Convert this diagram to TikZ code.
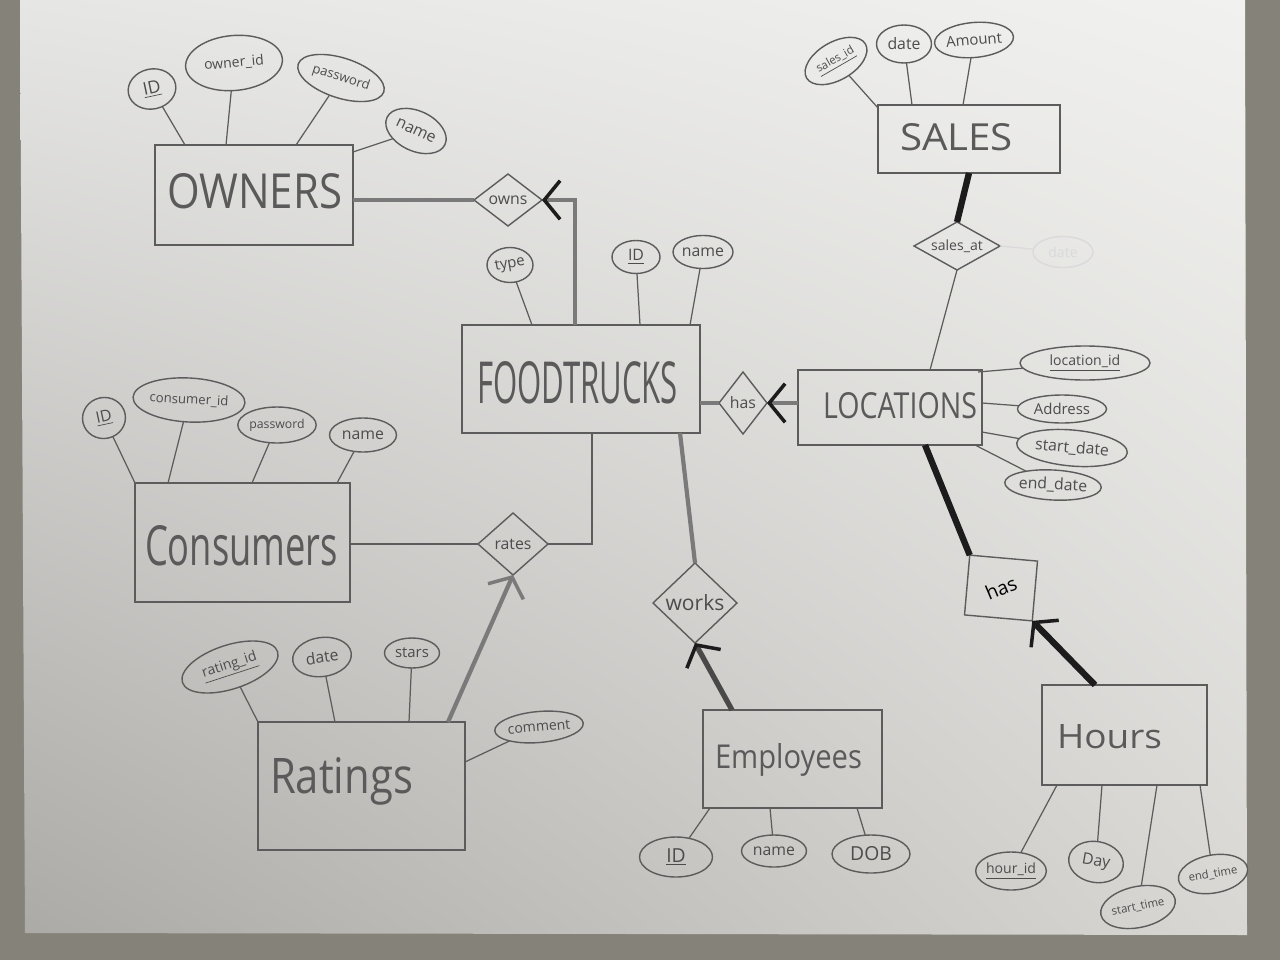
\documentclass[tikz,border=0pt]{standalone}
\usepackage{fontspec}
\setmainfont{Open Sans}
\usetikzlibrary{shapes.geometric,arrows.meta,calc,shadings}

\definecolor{pencil}{HTML}{5C5C5C}
\definecolor{ink}{HTML}{4C4C4C}
\definecolor{softink}{HTML}{5A5A5A}
\definecolor{heavy}{HTML}{7A7A7A}
\definecolor{graphite}{HTML}{1C1C1C}
\definecolor{backdrop}{HTML}{858279}
\definecolor{erased}{HTML}{DADADA}
\definecolor{paperUL}{RGB}{230,230,228}
\definecolor{paperUR}{RGB}{241,241,239}
\definecolor{paperLL}{RGB}{172,170,167}
\definecolor{paperLR}{RGB}{216,215,212}

\newcommand\attrsize[1]{\fontsize{#1}{#1}\selectfont}

\tikzset{
  entity/.style={draw=pencil, line width=0.9pt, rectangle, inner sep=0pt, outer sep=0pt},
  bigword/.style={anchor=base, inner sep=0pt, outer sep=0pt, text=softink},
  attr/.style={draw=pencil, line width=0.8pt, ellipse, inner sep=0pt, outer sep=0pt, text=ink},
  relation/.style={draw=pencil, line width=0.8pt, diamond, inner sep=0pt, outer sep=0pt, text=ink},
  link/.style={draw=pencil, line width=0.7pt},
  heavylink/.style={draw=heavy, line width=2.4pt},
  darklink/.style={draw=graphite, line width=3.6pt},
  barb/.style={-{Straight Barb[length=9pt,width=22pt,line width=2pt,color=#1]}},
  sz/.style 2 args={minimum width=#1*0.02cm, minimum height=#2*0.02cm},
}

\begin{document}
\begin{tikzpicture}[x=0.02cm, y=-0.02cm]
\useasboundingbox (0,0) rectangle (1280,960);

% table top and sheet of paper
\fill[backdrop] (0,0) rectangle (1280,960);
\shade[upper left=paperUL, upper right=paperUR,
       lower left=paperLL, lower right=paperLR]
  (20,0) -- (1245,0) -- (1247,935) -- (25,933) -- cycle;

% ---------------- entities ----------------
\node[entity, sz={198}{100}] (OWN) at (254,195) {};
\node[bigword] (OWNtxt) at (254.5,208) {\resizebox{3.5cm}{0.7cm}{OWNERS}};

\node[entity, sz={238}{108}] (FT) at (581,379) {};
\node[bigword] (FTtxt) at (577.5,403) {\resizebox{4.02cm}{0.84cm}{FOODTRUCKS}};

\node[entity, sz={184}{75}] (LOC) at (890,407.5) {};
\node[bigword] (LOCtxt) at (900,418) {\resizebox{3.08cm}{0.52cm}{LOCATIONS}};

\node[entity, sz={182}{68}] (SAL) at (969,139) {};
\node[bigword] (SALtxt) at (956.5,150) {\resizebox{2.26cm}{0.54cm}{SALES}};

\node[entity, sz={215}{119}] (CON) at (242.5,542.5) {};
\node[bigword] (CONtxt) at (241.5,565) {\resizebox{3.86cm}{0.8cm}{Consumers}};

\node[entity, sz={207}{128}] (RAT) at (361.5,786) {};
\node[bigword] (RATtxt) at (341.5,793) {\resizebox{2.86cm}{0.72cm}{Ratings}};

\node[entity, sz={179}{98}] (EMP) at (792.5,759) {};
\node[bigword] (EMPtxt) at (788.5,768) {\resizebox{2.94cm}{0.5cm}{Employees}};

\node[entity, sz={165}{100}] (HRS) at (1124.5,735) {};
\node[bigword] (HRStxt) at (1109.5,748) {\resizebox{2.1cm}{0.48cm}{Hours}};

% ---------------- relationships ----------------
\node[relation, sz={68}{52}, shape aspect=1.3] (owns) at (508,200) {\attrsize{9}owns};
\node[relation, sz={48}{62}] (hasA) at (743,403) {\attrsize{9}has};
\node[relation, sz={86}{48}, shape aspect=1.8] (salesat) at (957,246) {\attrsize{8}sales\_at};
\node[relation, sz={70}{62}] (rates) at (513,544) {\attrsize{9}rates};
\node[relation, sz={84}{80}] (works) at (695,603) {\attrsize{12}works};
\node[entity, line width=0.8pt, sz={68}{60}, rotate=-5] (hasB) at (1001,588)
  {\attrsize{11}\rotatebox{28}{has}};

% ---------------- attributes ----------------
% OWNERS
\node[attr, sz={48}{40}, rotate=12] (oID) at (152,89) {\attrsize{10}\underline{ID}};
\node[attr, sz={97}{55}, rotate=5] (oOid) at (234,63) {\attrsize{8}owner\_id};
\node[attr, sz={90}{40}, rotate=-18] (oPw) at (341,78) {\attrsize{7.5}password};
\node[attr, sz={64}{40}, rotate=-25] (oName) at (416,131) {\attrsize{9}name};

% SALES
\node[attr, sz={68}{38}, rotate=30] (sId) at (836,61) {\attrsize{6.5}\underline{sales\_id}};
\node[attr, sz={55}{38}] (sDate) at (904,44) {\attrsize{9}date};
\node[attr, sz={68}{35}, rotate=5] (sAmt) at (974,40) {\attrsize{8.5}Amount};
\node[attr, draw=erased, text=erased, sz={60}{31}] (sGhost) at (1063,252) {\attrsize{8}date};

% FOODTRUCKS
\node[attr, sz={46}{35}] (fType) at (510,265) {\attrsize{8.5}\rotatebox{10}{type}};
\node[attr, sz={48}{33}] (fID) at (636,257) {\attrsize{9}\underline{ID}};
\node[attr, sz={60}{33}] (fName) at (703,252) {\attrsize{9}name};

% LOCATIONS
\node[attr, sz={130}{34}] (lId) at (1085,363) {\attrsize{8}\underline{location\_id}};
\node[attr, sz={89}{28}] (lAddr) at (1062,409) {\attrsize{8.5}Address};
\node[attr, sz={111}{36}, rotate=-5] (lStart) at (1072,448) {\attrsize{9}start\_date};
\node[attr, sz={90}{30}, rotate=-3] (lEnd) at (1053,485) {\attrsize{9}end\_date};

% Consumers
\node[attr, sz={43}{41}, rotate=12] (cID) at (104,418) {\attrsize{9}\underline{ID}};
\node[attr, sz={112}{44}, rotate=-3] (cCid) at (189,400) {\attrsize{7.5}consumer\_id};
\node[attr, sz={73}{36}] (cPw) at (277,425) {\attrsize{7}password};
\node[attr, sz={67}{34}] (cName) at (363,435) {\attrsize{9}name};

% Ratings
\node[attr, sz={100}{44}, rotate=18] (rId) at (230,667) {\attrsize{8}\underline{rating\_id}};
\node[attr, sz={59}{39}, rotate=8] (rDate) at (322,657) {\attrsize{9}date};
\node[attr, sz={55}{30}] (rStars) at (412,653) {\attrsize{8.5}stars};
\node[attr, sz={88}{31}, rotate=5] (rComment) at (539,727) {\attrsize{8}comment};

% Employees
\node[attr, sz={73}{40}] (eID) at (676,857) {\attrsize{11}\underline{ID}};
\node[attr, sz={65}{32}] (eName) at (774,851) {\attrsize{9}name};
\node[attr, sz={78}{38}] (eDOB) at (871,854) {\attrsize{11}DOB};

% Hours
\node[attr, sz={68}{38}] (hId) at (1011,871) {\attrsize{8}\underline{hour\_id}};
\node[attr, sz={55}{41}, rotate=-10] (hDay) at (1096,862) {\attrsize{9}Day};
\node[attr, sz={71}{41}, rotate=12] (hStart) at (1138,907) {\attrsize{6.5}start\_time};
\node[attr, sz={65}{38}, rotate=10] (hEnd) at (1213,874) {\attrsize{6.5}end\_time};

% ---------------- attribute lines ----------------
\draw[link] (oID) -- ($(OWN.north west)+(30,0)$);
\draw[link] (oOid) -- ($(OWN.north west)+(71,0)$);
\draw[link] (oPw) -- ($(OWN.north west)+(141,0)$);
\draw[link] (oName) -- ($(OWN.north east)+(0,7)$);

\draw[link] (sId) -- ($(SAL.north west)+(0,3)$);
\draw[link] (sDate) -- ($(SAL.north west)+(34,0)$);
\draw[link] (sAmt) -- ($(SAL.north west)+(85,0)$);

\draw[link] (fType) -- ($(FT.north west)+(70,0)$);
\draw[link] (fID) -- ($(FT.north west)+(178,0)$);
\draw[link] (fName) -- ($(FT.north west)+(228,0)$);

\draw[link] (lId) -- ($(LOC.north east)+(-4,2)$);
\draw[link] (lAddr) -- ($(LOC.north east)+(0,33)$);
\draw[link] (lStart) -- ($(LOC.north east)+(0,62)$);
\draw[link] (lEnd) -- ($(LOC.south east)+(-7,0)$);

\draw[link] (cID) -- (CON.north west);
\draw[link] (cCid) -- ($(CON.north west)+(33,0)$);
\draw[link] (cPw) -- ($(CON.north west)+(117,0)$);
\draw[link] (cName) -- ($(CON.north east)+(-13,0)$);

\draw[link] (rId) -- (RAT.north west);
\draw[link] (rDate) -- ($(RAT.north west)+(77,0)$);
\draw[link] (rStars) -- ($(RAT.north west)+(151,0)$);
\draw[link] (rComment) -- ($(RAT.north east)+(0,40)$);

\draw[link] (eID) -- ($(EMP.south west)+(7,0)$);
\draw[link] (eName) -- ($(EMP.south west)+(67,0)$);
\draw[link] (eDOB) -- ($(EMP.south east)+(-25,0)$);

\draw[link] (hId) -- ($(HRS.south west)+(15,0)$);
\draw[link] (hDay) -- ($(HRS.south west)+(60,0)$);
\draw[link] (hStart) -- ($(HRS.south west)+(115,0)$);
\draw[link] (hEnd) -- ($(HRS.south east)+(-7,0)$);

% ---------------- relationship lines ----------------
\draw[heavylink] (OWN.east |- owns.west) -- (owns.west);
\draw[heavylink, barb=graphite] ($(FT.north west)+(113,0)$) |- (owns.east);

\draw[heavylink] (FT.east |- hasA.west) -- (hasA.west);
\draw[heavylink, barb=graphite] (LOC.west |- hasA.east) -- (hasA.east);

\draw[darklink] (SAL.south) -- (salesat.north);
\draw[link] ($(LOC.north west)+(132,0)$) -- (salesat.south);
\draw[draw=erased, line width=0.7pt] (salesat.east) -- (sGhost);

\draw[link] ($(FT.south west)+(130,0)$) |- (rates.east);
\draw[link] (CON.east |- rates.west) -- (rates.west);
\draw[heavylink, barb=heavy] ($(RAT.north east)+(-17,0)$) -- (rates.south);

\draw[heavylink] ($(FT.south west)+(218,0)$) -- (works.north);
\draw[draw=graphite!80, line width=3pt, barb=graphite] ($(EMP.north west)+(29,0)$) -- (works.south);

\draw[darklink] ($(LOC.south west)+(127,0)$) -- (hasB.north west);
\draw[darklink, barb=graphite] ($(HRS.north west)+(53,0)$) -- (hasB.south east);

\end{tikzpicture}
\end{document}
